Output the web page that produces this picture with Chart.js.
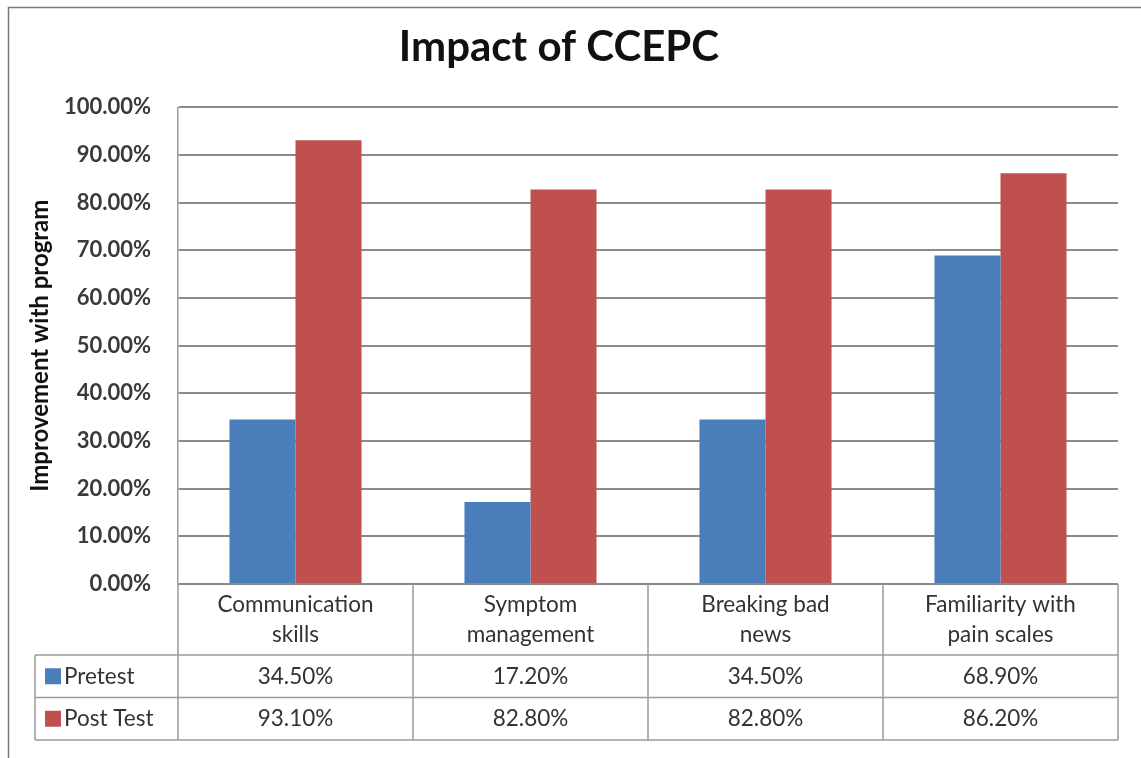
<!DOCTYPE html>
<html>
<head>
<meta charset="utf-8">
<script src="https://cdn.jsdelivr.net/npm/chart.js@4"></script>
<style>
  body { margin: 0; background: #fff; }
  canvas { display: block; }
</style>
</head>
<body>
<canvas id="impact" width="1141" height="758"></canvas>
<script>
var categories = [
  ["Communication", "skills"],
  ["Symptom", "management"],
  ["Breaking bad", "news"],
  ["Familiarity with", "pain scales"]
];
var pretest = [34.5, 17.2, 34.5, 68.9];
var postTest = [93.1, 82.8, 82.8, 86.2];
var seriesNames = ["Pretest", "Post Test"];
var seriesColors = ["#4a7ebb", "#c0504d"];

function pct(v) {
  return v.toFixed(2) + "%";
}

// data table under the plot, laid out on the x scale
var dataTable = {
  id: "dataTable",
  afterDraw: function (chart) {
    var ctx = chart.ctx;
    var area = chart.chartArea;
    var xs = chart.scales.x;
    var colW = xs.width / categories.length;
    var top = area.bottom;
    var headBottom = top + 71;
    var rowH = 42.5;
    var bottom = headBottom + rowH * 2;
    var legendLeft = 35;

    ctx.save();
    ctx.strokeStyle = "#9a9a9a";
    ctx.lineWidth = 1.5;
    ctx.beginPath();
    // horizontal lines
    for (var r = 0; r <= 2; r++) {
      var y = headBottom + rowH * r;
      ctx.moveTo(legendLeft, y);
      ctx.lineTo(area.right, y);
    }
    ctx.moveTo(legendLeft, headBottom);
    ctx.lineTo(legendLeft, bottom);
    for (var c = 0; c <= categories.length; c++) {
      var x = area.left + colW * c;
      ctx.moveTo(x, top);
      ctx.lineTo(x, bottom);
    }
    ctx.stroke();

    ctx.fillStyle = "#333";
    ctx.font = "22.5px Lato";
    ctx.textAlign = "center";
    ctx.textBaseline = "middle";
    categories.forEach(function (lines, i) {
      var cx = xs.getPixelForValue(i);
      ctx.fillText(lines[0], cx, top + 21);
      ctx.fillText(lines[1], cx, top + 51);
      ctx.fillText(pct(pretest[i]), cx, headBottom + rowH * 0.5);
      ctx.fillText(pct(postTest[i]), cx, headBottom + rowH * 1.5);
    });

    ctx.textAlign = "left";
    seriesNames.forEach(function (name, k) {
      var cy = headBottom + rowH * (k + 0.5);
      ctx.fillStyle = seriesColors[k];
      ctx.fillRect(45, cy - 8, 16, 16);
      ctx.fillStyle = "#333";
      ctx.fillText(name, 64, cy);
    });

    // outer frame
    ctx.strokeStyle = "#777";
    ctx.lineWidth = 1.5;
    ctx.strokeRect(8.5, 7.5, 1300, 900);
    ctx.restore();
  }
};

var chart = new Chart(document.getElementById("impact"), {
  type: "bar",
  data: {
    labels: categories,
    datasets: [
      {
        label: seriesNames[0],
        data: pretest,
        backgroundColor: seriesColors[0]
      },
      {
        label: seriesNames[1],
        data: postTest,
        backgroundColor: seriesColors[1]
      }
    ]
  },
  options: {
    responsive: false,
    animation: false,
    layout: {
      padding: { left: 0, top: 0, right: 23, bottom: 174 }
    },
    categoryPercentage: 0.562,
    barPercentage: 1,
    plugins: {
      legend: { display: false },
      tooltip: { enabled: false },
      title: {
        display: true,
        text: "Impact of CCEPC",
        color: "#111",
        font: { family: "Lato", size: 42, weight: "bold", lineHeight: 1.2 },
        padding: { top: 22, bottom: 35 }
      }
    },
    scales: {
      x: {
        display: false
      },
      y: {
        min: 0,
        max: 100,
        afterFit: function (scale) {
          scale.width = 178;
        },
        ticks: {
          stepSize: 10,
          padding: 27,
          color: "#3a3a3a",
          font: { family: "Lato", size: 22, weight: "bold" },
          callback: function (v) {
            return pct(v);
          }
        },
        grid: {
          color: "#8a8a8a",
          lineWidth: 2,
          drawTicks: false
        },
        border: {
          display: true,
          color: "#9a9a9a",
          width: 1.5
        },
        title: {
          display: true,
          text: "Improvement with program",
          color: "#111",
          font: { family: "Lato", size: 24, weight: "bold", lineHeight: 1.2 },
          padding: { top: 26, bottom: 0 }
        }
      }
    }
  },
  plugins: [dataTable]
});
</script>
</body>
</html>
